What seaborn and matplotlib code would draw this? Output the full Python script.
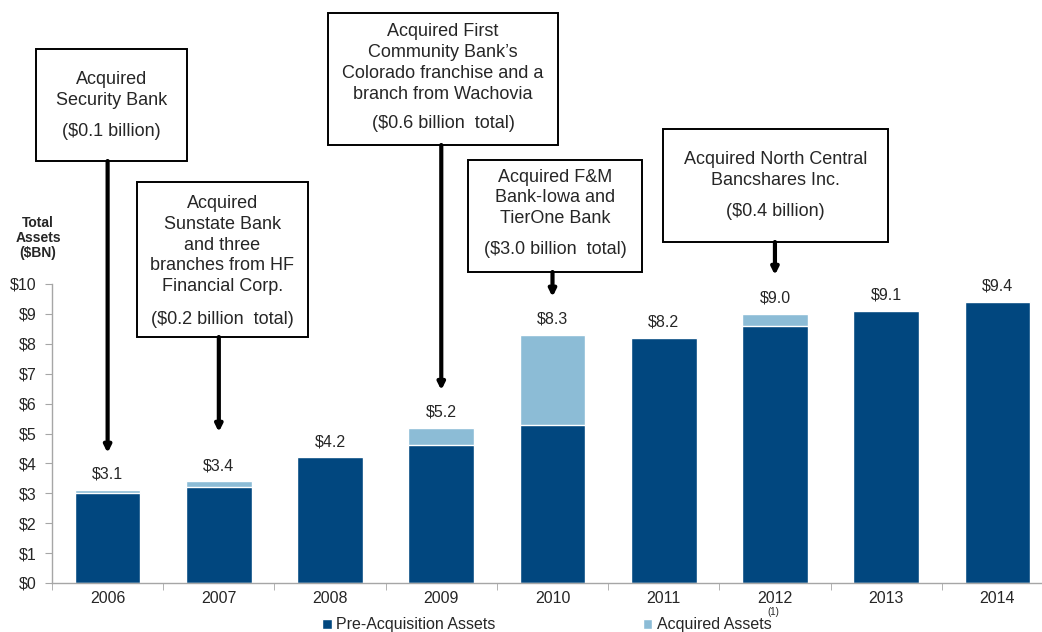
import pandas as pd
import matplotlib.pyplot as plt
from matplotlib.patches import Rectangle
import seaborn as sns

# Data (in $BN)
years = ['2006', '2007', '2008', '2009', '2010', '2011', '2012', '2013', '2014']
pre_acquisition = [3.0, 3.2, 4.2, 4.6, 5.3, 8.2, 8.6, 9.1, 9.4]
acquired = [0.1, 0.2, 0.0, 0.6, 3.0, 0.0, 0.4, 0.0, 0.0]
y_ticks = [0, 1, 2, 3, 4, 5, 6, 7, 8, 9, 10]
y_tick_labels = ['$' + str(t) for t in y_ticks]

callout_titles = [
    'Acquired\nSecurity Bank',
    'Acquired\nSunstate Bank\nand three\nbranches from HF\nFinancial Corp.',
    'Acquired First\nCommunity Bank\u2019s\nColorado franchise and a\nbranch from Wachovia',
    'Acquired F&M\nBank-Iowa and\nTierOne Bank',
    'Acquired North Central\nBancshares Inc.',
]
callout_amounts = ['($0.1 billion)', '($0.2 billion  total)', '($0.6 billion  total)',
                   '($3.0 billion  total)', '($0.4 billion)']
callout_years = ['2006', '2007', '2009', '2010', '2012']

df = pd.DataFrame({'year': years, 'pre': pre_acquisition, 'acq': acquired})
df['total'] = df['pre'] + df['acq']

DARK = '#01477F'
LIGHT = '#8CBCD6'
GREY = '#A6A6A6'
W, H = 1042, 632

sns.set_style("white")
plt.rcParams['font.family'] = ['Liberation Sans', 'DejaVu Sans']

fig = plt.figure(figsize=(W / 100, H / 100), dpi=100)
ax = fig.add_axes([52 / W, 49 / H, 1001 / W, 299 / H])

sns.barplot(data=df, x='year', y='total', color=LIGHT, width=0.59, saturation=1,
            label='Acquired Assets', ax=ax)
sns.barplot(data=df, x='year', y='pre', color=DARK, width=0.59, saturation=1,
            label='Pre-Acquisition Assets', ax=ax)
handles, labels = ax.get_legend_handles_labels()
if ax.get_legend() is not None:
    ax.get_legend().remove()

# value labels on top of bars
for i, v in enumerate(df['total']):
    ax.annotate(f'${v:.1f}', xy=(i, v), xytext=(0, 6), textcoords='offset points',
                ha='center', va='bottom', fontsize=11.5)

ax.set_xlim(-0.5, len(years) - 0.5)
ax.set_ylim(0, 10)
ax.set_yticks(y_ticks)
ax.set_yticklabels(y_tick_labels)
ax.set_xlabel('')
ax.set_ylabel('')
ax.tick_params(axis='y', left=True, length=5, color=GREY, pad=6, labelsize=11.5)
ax.tick_params(axis='x', which='major', length=0, pad=6, labelsize=11.5)
ax.set_xticks([i - 0.5 for i in range(len(years) + 1)], minor=True)
ax.tick_params(axis='x', which='minor', bottom=True, length=5, color=GREY)
for s in ['top', 'right']:
    ax.spines[s].set_visible(False)
for s in ['left', 'bottom']:
    ax.spines[s].set_color(GREY)
    ax.spines[s].set_linewidth(1)

fig.text(38 / W, 1 - 238 / H, 'Total\nAssets\n($BN)', ha='center', va='center',
         fontsize=10, fontweight='bold', linespacing=1.05)

# callout boxes: (left, top, right, bottom, title center y, amount center y, arrow tip value)
boxes = [
    (36, 49, 187, 161, 90, 132, 4.35),
    (137, 182, 308, 337, 245, 320, 5.05),
    (328, 13, 558, 145, 63, 123, 6.45),
    (468, 160, 642, 272, 198, 250, 9.57),
    (663, 129, 888, 242, 170, 211, 10.3),
]
for (l, t, r, b, ty, ay, tip), title, amount, yr in zip(boxes, callout_titles,
                                                        callout_amounts, callout_years):
    fig.add_artist(Rectangle((l / W, 1 - b / H), (r - l) / W, (b - t) / H,
                             transform=fig.transFigure, fill=False,
                             edgecolor='black', linewidth=1.4))
    cx = (l + r) / 2 / W
    fig.text(cx, 1 - ty / H, title, ha='center', va='center', fontsize=13,
             linespacing=1.3)
    fig.text(cx, 1 - ay / H, amount, ha='center', va='center', fontsize=13)
    idx = years.index(yr)
    ax.annotate('', xy=(idx, tip), xycoords='data',
                xytext=(idx, 1 - b / H), textcoords=('data', 'figure fraction'),
                annotation_clip=False,
                arrowprops=dict(arrowstyle='-|>', lw=3, color='black',
                                mutation_scale=10, shrinkA=0, shrinkB=0))

fig.legend(handles[::-1], labels[::-1], loc='center', bbox_to_anchor=(547 / W, 7 / H),
           ncol=2, frameon=False, fontsize=11.5, handlelength=0.6, handleheight=0.6,
           handletextpad=0.3, columnspacing=9.2)
fig.text(773 / W, 1 - 612 / H, '(1)', ha='center', va='center', fontsize=7)

fig.savefig('out.png', dpi=100)
